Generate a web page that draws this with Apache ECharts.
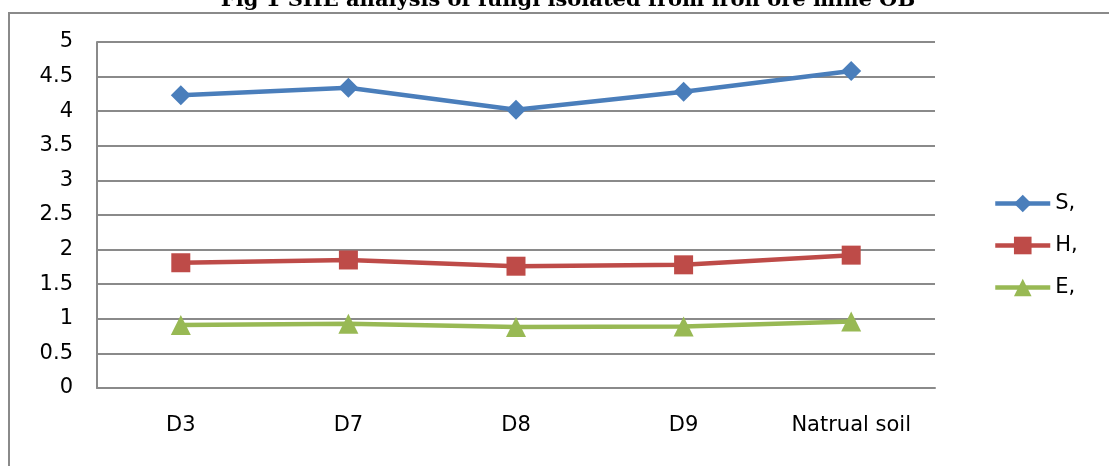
<!DOCTYPE html>
<html>
<head>
<meta charset="utf-8">
<script src="https://cdn.jsdelivr.net/npm/echarts@6/dist/echarts.min.js"></script>
<style>
  html, body { margin: 0; padding: 0; background: #fff; }
  #chart { width: 1109px; height: 466px; }
</style>
</head>
<body>
<div id="chart"></div>
<script>
// Sites and diversity indices (Shannon S, H, evenness E)
const categories = ['D3', 'D7', 'D8', 'D9', 'Natrual soil'];
const sValues = [4.23, 4.34, 4.02, 4.28, 4.58];
const hValues = [1.81, 1.85, 1.76, 1.78, 1.92];
const eValues = [0.91, 0.93, 0.88, 0.89, 0.96];
const seriesNames = ['S,', 'H,', 'E,'];
const titleText = 'Fig 1 SHE analysis of fungi isolated from iron ore mine OB';

const gray = '#8a8a8a';
const labelFont = 'DejaVu Sans';

const chart = echarts.init(document.getElementById('chart'), null, { renderer: 'canvas' });

function lineSeries(name, data, color, symbol, size) {
  return {
    name: name,
    type: 'line',
    data: data,
    symbol: symbol,
    symbolSize: size,
    showSymbol: true,
    lineStyle: { color: color, width: 4.5 },
    itemStyle: { color: color },
    emphasis: { disabled: true }
  };
}

chart.setOption({
  animation: false,
  backgroundColor: '#ffffff',
  graphic: [
    {
      type: 'rect',
      shape: { x: 9, y: 13, width: 1200, height: 600 },
      style: { fill: 'none', stroke: gray, lineWidth: 2 },
      silent: true
    },
    {
      type: 'text',
      x: 568,
      y: -10,
      style: {
        text: titleText,
        font: 'bold 21px "DejaVu Serif"',
        fill: '#000',
        textAlign: 'center',
        textVerticalAlign: 'top'
      },
      silent: true
    }
  ],
  grid: { left: 97, right: 174, top: 42, bottom: 78, containLabel: false },
  legend: {
    orient: 'vertical',
    left: 988,
    top: 188,
    itemWidth: 55,
    itemHeight: 22,
    itemGap: 21,
    data: seriesNames,
    lineStyle: { width: 4.5 },
    textStyle: { fontFamily: labelFont, fontSize: 21, color: '#000' }
  },
  xAxis: {
    type: 'category',
    data: categories,
    boundaryGap: true,
    axisLine: { show: true, lineStyle: { color: gray, width: 2 } },
    axisTick: { show: false },
    axisLabel: { fontFamily: labelFont, fontSize: 21, color: '#000', margin: 27 },
    splitLine: { show: false }
  },
  yAxis: {
    type: 'value',
    min: 0,
    max: 5,
    interval: 0.5,
    axisLine: { show: true, lineStyle: { color: gray, width: 2 } },
    axisTick: { show: false },
    axisLabel: { fontFamily: labelFont, fontSize: 21, color: '#000', margin: 24 },
    splitLine: { show: true, lineStyle: { color: gray, width: 2 } }
  },
  series: [
    lineSeries(seriesNames[0], sValues, '#4a7ebb', 'diamond', 20),
    lineSeries(seriesNames[1], hValues, '#be4b48', 'rect', 19),
    lineSeries(seriesNames[2], eValues, '#98b954', 'triangle', 20)
  ]
});
</script>
</body>
</html>
